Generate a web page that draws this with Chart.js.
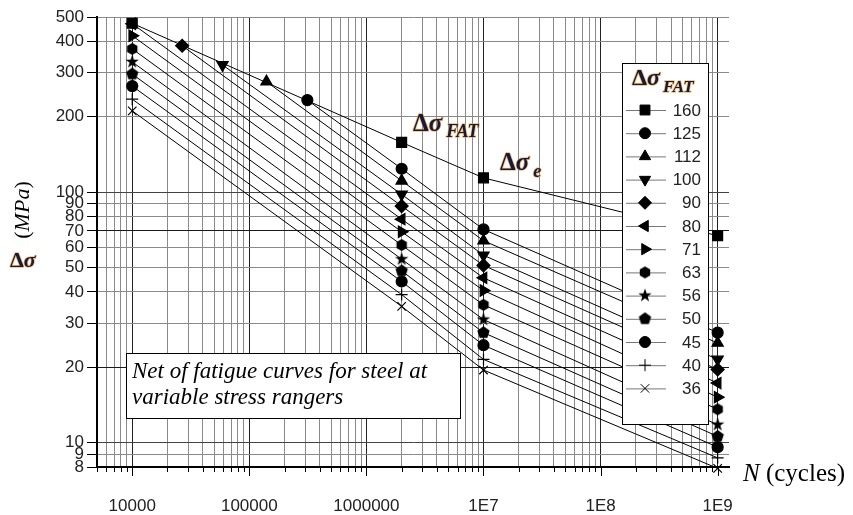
<!DOCTYPE html>
<html>
<head>
<meta charset="utf-8">
<script src="https://cdn.jsdelivr.net/npm/chart.js@4.4.1/dist/chart.umd.min.js"></script>
<style>
html,body{margin:0;padding:0;background:#fff;}
canvas{display:block;}
</style>
</head>
<body>
<canvas id="snChart" width="853" height="515"></canvas>
<script>
// FAT classes, legend order
const fatLabels = ['160','125','112','100','90','80','71','63','56','50','45','40','36'];

// first point of each curve (upper envelope, or N = 10000)
const startCycles = [10000, 313000, 140000, 59000, 26700, 10000, 10000, 10000, 10000, 10000, 10000, 10000, 10000];
const startStress = [472, 233, 276, 322, 384, 470, 421, 373, 331, 296, 265, 235, 211];

// knee points at 2e6 and 1e7, end of curve at 1e9
const kneeCycles = [2000000, 10000000, 1000000000];
const stressAt2e6 = [158, 124, 111, 98, 88, 78, 69.5, 61.5, 54, 48.5, 44, 39, 35];
const stressAt1e7 = [114, 71, 64, 56, 51, 45.5, 40.5, 35.5, 31, 27.5, 24.5, 21.5, 19.5];
const stressAt1e9 = [67, 27.5, 25, 21.5, 19.6, 17.3, 15.2, 13.6, 11.8, 10.6, 9.6, 8.7, 7.9];

// axis ticks
const xMajorTicks = [10000, 100000, 1000000, 10000000, 100000000, 1000000000];
const xTickLabels = ['10000','100000','1000000','1E7','1E8','1E9'];
const yTicks = [8,9,10,20,30,40,50,60,70,80,90,100,200,300,400,500];

// filled marker shapes that chart.js does not have
function polyMarker(n, rOut, rIn){
  const s = Math.ceil(rOut*2+2);
  const c = document.createElement('canvas');
  c.width = c.height = s;
  const g = c.getContext('2d');
  g.translate(s/2, s/2);
  const pts = rIn ? n*2 : n;
  g.beginPath();
  for(let i=0;i<pts;i++){
    const r = rIn ? (i%2 ? rIn : rOut) : rOut;
    const a = i*2*Math.PI/pts;
    g.lineTo(r*Math.sin(a), -r*Math.cos(a));
  }
  g.closePath();
  g.fillStyle = '#000';
  g.fill();
  return c;
}
const hexImg = polyMarker(6, 6, 0);
const pentImg = polyMarker(5, 6.5, 0);
const starImg = polyMarker(5, 7, 2.8);

const markers = [
  {style:'rect', r:7, rot:0},
  {style:'circle', r:5.5, rot:0},
  {style:'triangle', r:6.5, rot:0},
  {style:'triangle', r:6.5, rot:180},
  {style:'rectRot', r:6.5, rot:0},
  {style:'triangle', r:6.5, rot:-90},
  {style:'triangle', r:6.5, rot:90},
  {style:hexImg, r:6, rot:0},
  {style:starImg, r:6, rot:0},
  {style:pentImg, r:6, rot:0},
  {style:'circle', r:5.5, rot:0},
  {style:'cross', r:6, rot:0},
  {style:'crossRot', r:6, rot:0}
];

const datasets = fatLabels.map((lab, i) => ({
  label: lab,
  data: [
    {x:startCycles[i], y:startStress[i]},
    {x:kneeCycles[0], y:stressAt2e6[i]},
    {x:kneeCycles[1], y:stressAt1e7[i]},
    {x:kneeCycles[2], y:stressAt1e9[i]}
  ],
  showLine: true,
  borderColor: '#000',
  borderWidth: 1,
  backgroundColor: '#000',
  pointStyle: markers[i].style,
  pointRadius: markers[i].r,
  pointRotation: markers[i].rot,
  pointBorderWidth: 1.2,
  clip: false
}));

// every 1..9 multiple between 5000 and 1e9 gets a grid line
const xGridTicks = [];
for(let d=3; d<=9; d++){
  for(let m=1; m<=9; m++){
    const v = Number(m+'e'+d);
    if(v>=5000 && v<=1e9) xGridTicks.push(v);
  }
}

function glowText(ctx, txt, x, y, font){
  ctx.font = font;
  ctx.lineJoin = 'round';
  ctx.lineWidth = 1.6;
  ctx.strokeStyle = 'rgba(240,160,60,0.7)';
  ctx.strokeText(txt, x, y);
  ctx.fillStyle = '#141b3e';
  ctx.fillText(txt, x, y);
  return ctx.measureText(txt).width;
}

function deltaSigma(ctx, x, y, size){
  let w = glowText(ctx, 'Δ', x, y, 'bold '+size+'px "Liberation Serif"');
  w += glowText(ctx, 'σ', x+w, y, 'bold italic '+size+'px "Liberation Serif"');
  return w;
}

const decor = {
  id: 'decor',
  afterDatasetsDraw(chart){
    const ctx = chart.ctx;
    const xs = chart.scales.x;
    const area = chart.chartArea;
    ctx.save();

    // x tick marks: long at decades, short otherwise
    ctx.strokeStyle = '#000';
    ctx.lineWidth = 1;
    xGridTicks.forEach(v => {
      const px = Math.round(xs.getPixelForValue(v)) + 0.5;
      const len = xMajorTicks.includes(v) ? 9 : 5;
      ctx.beginPath();
      ctx.moveTo(px, area.bottom);
      ctx.lineTo(px, area.bottom + len);
      ctx.stroke();
    });

    // note box
    ctx.fillStyle = '#fff';
    ctx.fillRect(126.5, 353.5, 334, 65);
    ctx.strokeStyle = '#000';
    ctx.strokeRect(126.5, 353.5, 334, 65);
    ctx.fillStyle = '#000';
    ctx.font = 'italic 23px "Liberation Serif"';
    ctx.textBaseline = 'alphabetic';
    ctx.fillText('Net of fatigue curves for steel at', 132, 378);
    ctx.fillText('variable stress rangers', 132, 404);

    // legend box
    ctx.fillStyle = '#fff';
    ctx.fillRect(622.5, 63.5, 86, 361);
    ctx.strokeStyle = '#000';
    ctx.strokeRect(622.5, 63.5, 86, 361);
    const tw = deltaSigma(ctx, 632, 85, 24);
    glowText(ctx, 'FAT', 632+tw+3, 92, 'bold italic 17px "Liberation Serif"');

    fatLabels.forEach((lab, i) => {
      const y = 110 + i*23.2;
      ctx.strokeStyle = '#777';
      ctx.lineWidth = 1;
      ctx.beginPath();
      ctx.moveTo(626, y+0.5);
      ctx.lineTo(666, y+0.5);
      ctx.stroke();
      ctx.fillStyle = '#000';
      ctx.strokeStyle = '#000';
      Chart.helpers.drawPoint(ctx, {pointStyle: markers[i].style, radius: markers[i].r, rotation: markers[i].rot, borderWidth: 1.2}, 645, y);
      ctx.fillStyle = '#222';
      ctx.font = '17px "Liberation Sans"';
      ctx.textAlign = 'right';
      ctx.textBaseline = 'middle';
      ctx.fillText(lab, 701, y+1);
      ctx.textAlign = 'left';
      ctx.textBaseline = 'alphabetic';
    });

    // curve labels
    let w = deltaSigma(ctx, 413, 131, 25);
    glowText(ctx, 'FAT', 413+w+4, 137, 'bold italic 18px "Liberation Serif"');
    w = deltaSigma(ctx, 500, 170, 25);
    glowText(ctx, 'e', 500+w+4, 177, 'bold italic 18px "Liberation Serif"');

    // y axis title
    deltaSigma(ctx, 10, 267, 22);
    ctx.save();
    ctx.translate(29, 210);
    ctx.rotate(-Math.PI/2);
    ctx.fillStyle = '#000';
    const up = '22px "Liberation Serif"', it = 'italic 22px "Liberation Serif"';
    ctx.font = up; const wp = ctx.measureText('(').width;
    ctx.font = it; const wm = ctx.measureText('MPa').width;
    let cx = -(wp*2 + wm)/2;
    ctx.font = up; ctx.fillText('(', cx, 0); cx += wp;
    ctx.font = it; ctx.fillText('MPa', cx, 0); cx += wm;
    ctx.font = up; ctx.fillText(')', cx, 0);
    ctx.restore();

    // x axis title
    ctx.fillStyle = '#000';
    ctx.font = 'italic 25px "Liberation Serif"';
    ctx.fillText('N', 743, 481);
    const wn = ctx.measureText('N').width;
    ctx.font = '25px "Liberation Serif"';
    ctx.fillText(' (cycles)', 743+wn, 481);

    ctx.restore();
  }
};

new Chart(document.getElementById('snChart'), {
  type: 'scatter',
  data: {datasets: datasets},
  options: {
    responsive: false,
    animation: false,
    layout: {padding: {top: 17, right: 124, left: 0, bottom: 0}},
    plugins: {legend: {display: false}, tooltip: {enabled: false}},
    scales: {
      x: {
        type: 'logarithmic',
        min: 5000,
        max: 1250000000,
        afterBuildTicks: s => { s.ticks = xGridTicks.map(v => ({value: v})); },
        afterFit: s => { s.height = 48; },
        border: {color: '#000', width: 2},
        grid: {
          drawTicks: false,
          color: c => xMajorTicks.includes(c.tick && c.tick.value) ? '#222' : '#8a8a8a',
          lineWidth: 1
        },
        ticks: {
          autoSkip: false,
          maxRotation: 0,
          padding: 29,
          color: '#222',
          font: {family: '"Liberation Sans"', size: 17},
          callback: v => { const k = xMajorTicks.indexOf(v); return k >= 0 ? xTickLabels[k] : ''; }
        }
      },
      y: {
        type: 'logarithmic',
        min: 8,
        max: 500,
        afterBuildTicks: s => { s.ticks = yTicks.map(v => ({value: v})); },
        afterFit: s => { s.width = 97; },
        border: {color: '#000', width: 2},
        grid: {
          drawTicks: true,
          tickLength: 10,
          tickColor: '#000',
          color: c => {
            const v = c.tick && c.tick.value;
            if(v === 70 || v === 20) return '#1a1a1a';
            if(v === 10 || v === 100) return '#444';
            return '#8a8a8a';
          },
          lineWidth: 1
        },
        ticks: {
          autoSkip: false,
          padding: 3,
          color: '#222',
          font: {family: '"Liberation Sans"', size: 17},
          callback: v => String(v)
        }
      }
    }
  },
  plugins: [decor]
});
</script>
</body>
</html>
